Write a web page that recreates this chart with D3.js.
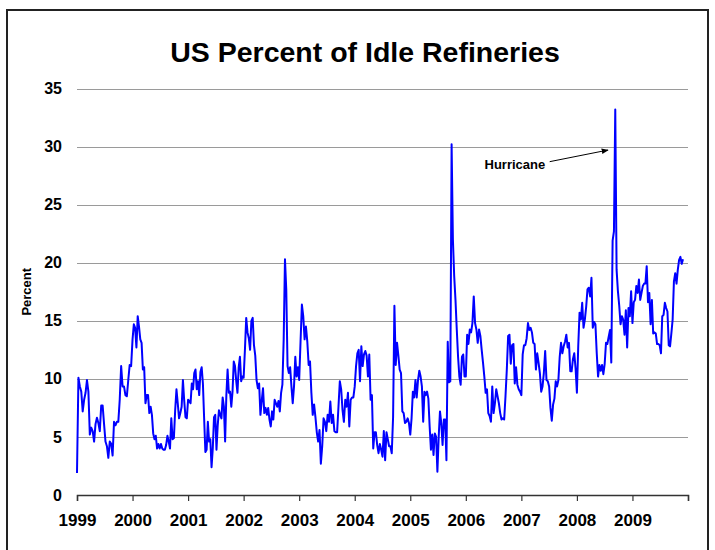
<!DOCTYPE html>
<html>
<head>
<meta charset="utf-8">
<script src="https://cdn.jsdelivr.net/npm/d3@7"></script>
<style>
  body { margin: 0; background: #fff; }
  svg { display: block; font-family: Arial, "Liberation Sans", sans-serif; }
</style>
</head>
<body>
<svg id="chart" width="715" height="550"></svg>
<script>
// Weekly share of US refinery capacity standing idle (percent), grouped by year.
const years = [1999, 2000, 2001, 2002, 2003, 2004, 2005, 2006, 2007, 2008, 2009];

const idle1999 = [1.9, 10.1, 9.35, 8.9, 7.2, 8.2, 8.8, 9.9, 8.9, 5.2, 5.8, 5.5, 4.6, 6.1, 6.65, 6.2, 5.5, 7.7, 7.7, 6.1, 4.6, 4.2, 3.2, 4.6, 4.4, 3.4, 6.3, 6.0, 6.3, 6.3, 8.2, 11.1, 9.35, 9.35, 8.6, 8.5, 9.9, 11.2, 11.1];
const idle2000 = [13.4, 14.7, 14.4, 12.7, 15.4, 14.5, 13.4, 13.1, 10.8, 11.0, 7.9, 8.6, 8.6, 7.05, 7.6, 6.9, 5.3, 4.8, 5.1, 4.0, 4.4, 4.0, 4.4, 4.0, 3.9, 3.9, 4.3, 5.1, 4.6, 4.0, 6.6, 4.8, 4.9, 7.3, 9.1, 7.9, 6.6, 7.05, 7.6, 9.9, 8.1, 6.7, 6.6];
const idle2001 = [8.2, 8.1, 7.9, 9.6, 9.1, 10.5, 10.8, 9.1, 9.8, 8.6, 10.6, 11.0, 9.6, 6.6, 3.7, 3.9, 6.3, 4.6, 4.8, 2.4, 4.0, 6.7, 6.9, 3.9, 6.0, 7.3, 6.9, 6.6, 8.4, 7.6, 4.6, 8.6, 10.8, 8.8, 8.9, 7.6, 8.9, 11.5, 11.1, 9.8, 8.8, 11.0, 11.9, 9.8, 10.2];
const idle2002 = [10.1, 12.5, 15.25, 14.0, 13.5, 12.5, 15.0, 15.25, 12.9, 12.0, 9.9, 9.2, 9.6, 6.9, 8.1, 9.2, 7.05, 7.5, 6.9, 7.5, 6.5, 5.9, 7.2, 6.5, 8.2, 7.9, 7.6, 8.1, 7.2, 8.8, 9.5, 13.4, 20.3, 17.7, 11.1, 10.5, 11.0, 9.35, 7.9, 9.35, 11.9, 10.2, 11.0];
const idle2003 = [9.9, 13.2, 16.4, 15.4, 13.4, 14.5, 13.2, 11.2, 11.5, 8.8, 6.9, 7.8, 6.7, 5.4, 4.6, 5.6, 2.7, 4.2, 6.6, 6.3, 5.5, 6.9, 6.3, 8.05, 6.2, 6.9, 5.5, 5.4, 5.4, 7.6, 9.8, 9.1, 7.3, 6.3, 8.2, 7.6, 8.8, 5.9, 8.2, 8.4, 8.4];
const idle2004 = [9.35, 11.1, 12.2, 12.5, 9.8, 12.8, 11.1, 12.1, 12.4, 12.0, 10.2, 12.1, 8.2, 8.6, 4.0, 5.4, 5.4, 4.3, 3.6, 4.4, 3.9, 3.3, 5.5, 3.0, 5.4, 4.8, 4.2, 4.2, 3.6, 6.7, 16.3, 11.2, 13.1, 12.0, 10.8, 10.5, 7.2, 7.05, 6.2, 6.3, 6.6, 6.2];
const idle2005 = [5.2, 6.6, 8.9, 8.4, 9.9, 8.4, 9.9, 10.7, 10.2, 9.35, 6.3, 8.9, 8.6, 8.9, 8.3, 5.9, 3.9, 5.2, 3.45, 5.3, 5.0, 2.0, 5.0, 7.2, 6.2, 4.3, 6.5, 6.5, 3.0, 13.2, 9.7, 9.8, 30.2, 22.0, 18.85, 16.8, 14.25, 11.9, 10.2, 9.5, 11.9, 12.1, 10.2];
const idle2006 = [10.2, 13.8, 13.0, 14.25, 14.0, 14.8, 17.1, 14.8, 14.25, 13.1, 14.25, 13.7, 12.5, 11.4, 10.2, 8.8, 9.1, 7.05, 6.8, 6.3, 9.35, 7.05, 7.9, 9.1, 8.5, 7.9, 7.05, 6.5, 6.6, 6.5, 8.5, 10.8, 13.7, 13.8, 11.3, 12.9, 13.0, 9.6, 11.0, 9.5, 9.1, 8.9];
const idle2007 = [8.6, 12.1, 12.9, 12.9, 13.5, 14.8, 14.2, 14.4, 14.0, 13.1, 13.0, 10.8, 12.2, 11.4, 10.5, 8.9, 9.35, 10.5, 12.4, 9.9, 9.8, 9.35, 7.5, 6.4, 7.8, 8.3, 9.8, 9.35, 9.9, 11.9, 13.1, 12.2, 12.8, 13.2, 13.8, 12.7, 13.1, 10.65, 10.65, 11.7, 12.2, 10.9];
const idle2008 = [8.8, 12.8, 15.7, 15.1, 16.55, 14.4, 15.1, 16.2, 17.7, 17.85, 17.1, 18.7, 14.4, 14.9, 14.7, 12.2, 10.2, 11.2, 10.7, 11.2, 10.4, 11.3, 13.1, 13.0, 13.6, 14.2, 11.4, 21.9, 22.7, 33.2, 19.4, 17.55, 16.3, 14.7, 15.4, 15.1, 13.8, 15.9, 12.7, 16.1, 15.4, 17.55];
const idle2009 = [14.8, 16.6, 16.8, 18.0, 17.4, 18.55, 16.8, 17.4, 18.0, 18.2, 18.2, 19.7, 16.6, 17.4, 14.7, 16.8, 13.9, 14.0, 13.9, 13.0, 13.0, 12.9, 12.2, 15.4, 15.5, 16.55, 16.1, 15.8, 12.9, 12.8, 13.9, 15.1, 18.4, 19.1, 18.2, 19.4, 20.25, 20.5, 19.9, 20.3];

// The final year is partial: the last weekly report falls in late November.
const lastReport = 2009.91;

const yTicks = [0, 5, 10, 15, 20, 25, 30, 35];
const xTickYears = [1999, 2000, 2001, 2002, 2003, 2004, 2005, 2006, 2007, 2008, 2009, 2010];
const xTickLabels = ["1999", "2000", "2001", "2002", "2003", "2004", "2005", "2006", "2007", "2008", "2009", ""];

const titleText = "US Percent of Idle Refineries";
const yAxisTitle = "Percent";
const noteText = "Hurricane";
// Note anchored in data units: text end and arrow tip next to the 2008 spike.
const noteTextAt = [2007.43, 28.1];
const noteArrowFrom = [2007.51, 28.7];
const noteArrowTo = [2008.56, 29.7];

const seriesByYear = [idle1999, idle2000, idle2001, idle2002, idle2003, idle2004,
                      idle2005, idle2006, idle2007, idle2008, idle2009];

const points = [];
seriesByYear.forEach((vals, k) => {
  const y0 = years[k];
  const isLast = k === years.length - 1;
  const step = isLast ? (lastReport - y0) / (vals.length - 1) : 1 / vals.length;
  vals.forEach((v, i) => points.push({ t: y0 + i * step, v }));
});

const svg = d3.select("#chart");

// outer frame
svg.append("rect")
  .attr("x", 7).attr("y", 10).attr("width", 701).attr("height", 560)
  .attr("fill", "none").attr("stroke", "#222").attr("stroke-width", 2);

const x = d3.scaleLinear().domain([1999, 2010]).range([77, 688]);
const y = d3.scaleLinear().domain([0, 35]).range([495, 88.5]);

// title
svg.append("text")
  .attr("x", 365).attr("y", 62)
  .attr("text-anchor", "middle")
  .attr("font-size", 28.5).attr("font-weight", "bold")
  .text(titleText);

// horizontal gridlines
svg.append("g")
  .selectAll("line")
  .data(yTicks.filter(d => d > 0))
  .join("line")
  .attr("x1", x(1999)).attr("x2", x(2010))
  .attr("y1", d => Math.round(y(d)) + 0.5).attr("y2", d => Math.round(y(d)) + 0.5)
  .attr("stroke", "#9a9a9a").attr("stroke-width", 1);

// y tick labels
const yAxis = d3.axisLeft(y).tickValues(yTicks).tickSize(0).tickPadding(15);
const gy = svg.append("g").attr("transform", `translate(${x(1999)},0)`).call(yAxis);
gy.select(".domain").remove();
gy.selectAll("text")
  .attr("font-size", 16).attr("font-weight", "bold")
  .attr("font-family", "Arial, 'Liberation Sans', sans-serif")
  .attr("fill", "#000");

// x axis with year ticks
const xAxis = d3.axisBottom(x).tickValues(xTickYears)
  .tickFormat((d, i) => xTickLabels[i]).tickSize(6).tickPadding(13);
const gx = svg.append("g").attr("transform", `translate(0,${y(0)})`).call(xAxis);
gx.select(".domain").attr("stroke", "#333").attr("stroke-width", 1.5);
gx.selectAll(".tick line").attr("stroke", "#333").attr("stroke-width", 1.2);
gx.selectAll("text")
  .attr("font-size", 17).attr("font-weight", "bold")
  .attr("font-family", "Arial, 'Liberation Sans', sans-serif")
  .attr("fill", "#000");

// y axis title
svg.append("text")
  .attr("transform", `translate(31,${(y(0) + y(35)) / 2}) rotate(-90)`)
  .attr("text-anchor", "middle")
  .attr("font-size", 13).attr("font-weight", "bold")
  .text(yAxisTitle);

// data line
const line = d3.line().x(d => x(d.t)).y(d => y(d.v));
svg.append("path")
  .datum(points)
  .attr("d", line)
  .attr("fill", "none")
  .attr("stroke", "#0000ff")
  .attr("stroke-width", 2)
  .attr("stroke-linejoin", "round");

// annotation
svg.append("defs").append("marker")
  .attr("id", "arrowHead")
  .attr("viewBox", "0 0 10 10").attr("refX", 9).attr("refY", 5)
  .attr("markerWidth", 7).attr("markerHeight", 7).attr("orient", "auto")
  .append("path").attr("d", "M0,1 L10,5 L0,9 Z").attr("fill", "#000");

svg.append("text")
  .attr("x", x(noteTextAt[0])).attr("y", y(noteTextAt[1]))
  .attr("text-anchor", "end")
  .attr("font-size", 13).attr("font-weight", "bold")
  .text(noteText);

svg.append("line")
  .attr("x1", x(noteArrowFrom[0])).attr("y1", y(noteArrowFrom[1]))
  .attr("x2", x(noteArrowTo[0])).attr("y2", y(noteArrowTo[1]))
  .attr("stroke", "#000").attr("stroke-width", 1)
  .attr("marker-end", "url(#arrowHead)");
</script>
</body>
</html>
